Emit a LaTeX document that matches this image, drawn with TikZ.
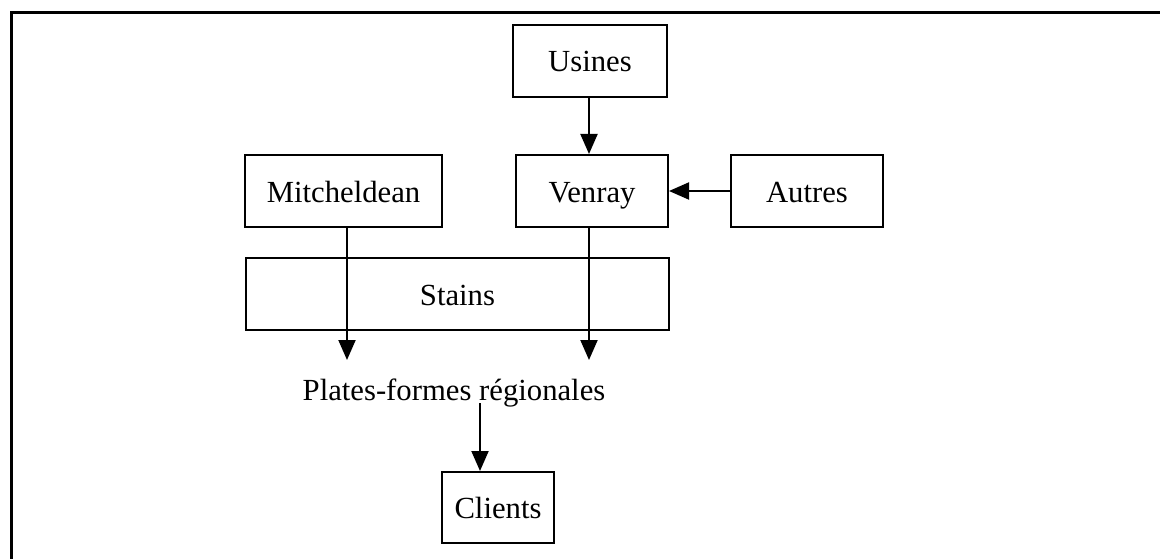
\documentclass[tikz,border=0pt]{standalone}
\usepackage{fontspec}
\setmainfont{Liberation Serif}
\usetikzlibrary{arrows.meta}
\begin{document}
\begin{tikzpicture}[x=1pt,y=-1pt,
  every node/.style={font=\fontsize{30.7}{34}\selectfont, inner sep=0pt,
    text height=22pt, text depth=0pt},
  site/.style={draw, line width=2pt, minimum height=72pt},
  flow/.style={line width=2pt, -{Triangle[length=20pt,width=17pt]}}]
\useasboundingbox (0,0) rectangle (1160,559);
% open frame: left and top edges
\draw[line width=3pt] (11,559) -- (11,13) -- (1160,13);
% boxes
\node[site, minimum width=154pt] (usines) at (590,61) {Usines};
\node[site, minimum width=152pt] (venray) at (592,191) {Venray};
\node[site, minimum width=197pt] (mitch) at (343.5,191) {Mitcheldean};
\node[site, minimum width=152pt] (autres) at (807,191) {Autres};
\node[draw, line width=1.2pt, minimum width=423pt, minimum height=72pt] (stains) at (457.5,294) {Stains};
\node (plates) at (454,389) {Plates-formes régionales};
\node[site, minimum width=112pt, minimum height=71pt] (clients) at (498,507.5) {Clients};
% connectors
\coordinate (mEnd) at (347,360);
\coordinate (vEnd) at (589,360);
\draw[flow] (usines.south -| 589,0) -- (venray.north -| 589,0);
\draw[flow] (autres.west) -- (venray.east);
\draw[flow] (mitch.south -| mEnd) -- (mEnd);
\draw[flow] (venray.south -| vEnd) -- (vEnd);
\coordinate (pStart) at (480,403);
\draw[flow] (pStart) -- (clients.north -| pStart);
\end{tikzpicture}
\end{document}
